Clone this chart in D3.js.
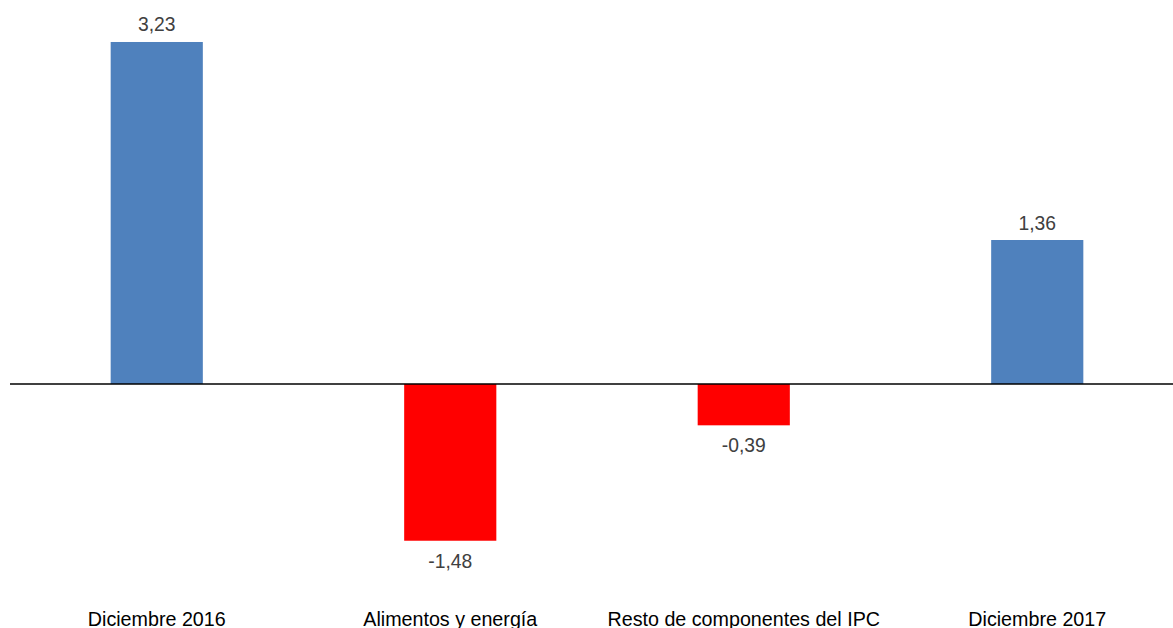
<!DOCTYPE html>
<html>
<head>
<meta charset="utf-8">
<script src="https://cdn.jsdelivr.net/npm/d3@7"></script>
<style>
  html, body { margin: 0; padding: 0; background: #fff; }
  svg { display: block; }
</style>
</head>
<body>
<script>
const categories = ["Diciembre 2016", "Alimentos y energía", "Resto de componentes del IPC", "Diciembre 2017"];
const values = [3.23, -1.48, -0.39, 1.36];
const valueLabels = ["3,23", "-1,48", "-0,39", "1,36"];

const W = 1173, H = 628;
const svg = d3.select("body").append("svg").attr("width", W).attr("height", H);

const x = d3.scaleBand().domain(categories).range([10, 1184]).padding(0);
const barW = x.bandwidth() * 0.314;

const y = d3.scaleLinear().domain([-2, 3.5]).range([595.8, 13.4]);

const color = v => v >= 0 ? "#4F81BD" : "#FF0000";

svg.selectAll("rect.bar").data(values).join("rect")
  .attr("class", "bar")
  .attr("x", (d, i) => x(categories[i]) + x.bandwidth() / 2 - barW / 2)
  .attr("width", barW)
  .attr("y", d => Math.min(y(d), y(0)))
  .attr("height", d => Math.abs(y(d) - y(0)))
  .attr("fill", d => color(d));

// zero line
svg.append("line")
  .attr("x1", 10).attr("x2", W)
  .attr("y1", y(0)).attr("y2", y(0))
  .attr("stroke", "#000").attr("stroke-width", 1.5);

// value labels
svg.selectAll("text.val").data(values).join("text")
  .attr("class", "val")
  .attr("x", (d, i) => x(categories[i]) + x.bandwidth() / 2)
  .attr("y", d => d >= 0 ? y(d) - 10.5 : y(d) + 27)
  .attr("text-anchor", "middle")
  .attr("font-family", "Liberation Sans, Arial, sans-serif")
  .attr("font-size", "19.3px")
  .attr("fill", "#404040")
  .text((d, i) => valueLabels[i]);

// category labels
svg.selectAll("text.cat").data(categories).join("text")
  .attr("class", "cat")
  .attr("x", d => x(d) + x.bandwidth() / 2)
  .attr("y", 626)
  .attr("text-anchor", "middle")
  .attr("font-family", "Liberation Sans, Arial, sans-serif")
  .attr("font-size", "19.7px")
  .attr("fill", "#000")
  .text(d => d);
</script>
</body>
</html>
